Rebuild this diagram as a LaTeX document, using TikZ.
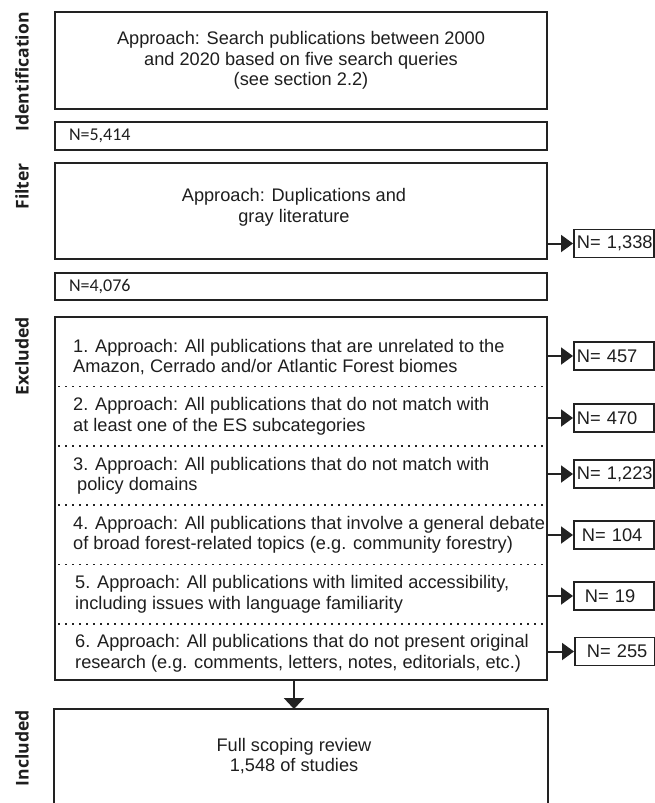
\documentclass[tikz,border=0pt]{standalone}
\usepackage{fontspec}
\setmainfont{Liberation Sans}
\newfontfamily\stagefont{Open Sans}
\newfontfamily\countfont{Carlito}
\usetikzlibrary{arrows.meta}
\definecolor{boxline}{HTML}{222222}
\definecolor{boxtext}{HTML}{1E1E1E}
\tikzset{
  mainbox/.style={draw=boxline, line width=1.9pt, minimum width=492pt,
                  inner sep=0pt, text=boxtext, align=center,
                  font=\fontsize{18.2}{20.5}\selectfont},
  countbox/.style={mainbox, inner xsep=14pt, text width=464pt, align=left,
                   minimum height=28pt, font=\countfont\fontsize{18}{20}\selectfont},
  stage/.style={rotate=90, anchor=east, inner sep=0pt, text=boxtext,
                font=\stagefont\bfseries\fontsize{17.6}{19}\selectfont},
  item/.style={anchor=west, align=left, inner sep=0pt, text=boxtext,
               font=\fontsize{18.2}{20.5}\selectfont},
  nbox/.style={draw=boxline, line width=1.7pt, anchor=west, minimum height=28pt,
               inner xsep=3pt, inner ysep=0pt, text width=74pt, align=left,
               text=boxtext, font=\fontsize{18.3}{20}\selectfont},
  outarrow/.style={draw=boxline, line width=2pt, -{Triangle[length=12pt, width=17pt]}},
  downarrow/.style={draw=boxline, line width=2pt, -{Triangle[length=11pt, width=20pt]}},
  sepline/.style={boxline, line width=1.7pt, dash pattern=on 1.6pt off 5.4pt},
}

\begin{document}
\begin{tikzpicture}[x=1pt, y=-1pt]
    \useasboundingbox (0,0) rectangle (654,803);
    % stages
    \node[stage] (lblident) at (22,12) {Identification};
    \node[stage] (lblfilt) at (22,163) {Filter};
    \node[stage] (lblexcl) at (22,317) {Excluded};
    \node[stage] (lblincl) at (22,710) {Included};

    \node[mainbox, minimum height=97pt] (ident) at (301,60.5)
      {Approach: Search publications between 2000\\and 2020 based on five search queries\\(see section 2.2)};
    \node[countbox] (n0) at (301,136) {N=5,414};

    \node[mainbox, minimum height=96pt] (filt) at (301,211) {};
    \node[item, anchor=center, align=center] (filttxt) at (294,207.5) {Approach: Duplications and\\gray literature};
    \node[nbox] (nx0) at (573,243.5) {N=~1,338};
    \draw[outarrow] (filt.east |- nx0.west) -- (nx0.west);

    \node[countbox, minimum height=27pt] (n1) at (301,286.5) {N=4,076};

    % excluded block
    \node[mainbox, minimum height=363pt] (excl) at (301,498.5) {};
    \node[item] (ex1) at (73,357) {1. Approach: All publications that are unrelated to the\\Amazon, Cerrado and/or Atlantic Forest biomes};
    \node[item] (ex2) at (73,416.3) {2. Approach: All publications that do not match with\\at least one of the ES subcategories};
    \node[item] (ex3) at (73,475.6) {3. Approach: All publications that do not match with\\\hspace*{4pt}policy domains};
    \node[item] (ex4) at (73,534.9) {4. Approach: All publications that involve a general debate\\of broad forest-related topics (e.g. community forestry)};
    \node[item] (ex5) at (75,594.2) {5. Approach: All publications with limited accessibility,\\including issues with language familiarity};
    \node[item] (ex6) at (75,653.5) {6. Approach: All publications that do not present original\\research (e.g. comments, letters, notes, editorials, etc.)};
    \draw[sepline] (58,386.6) -- (545,386.6);
    \draw[sepline] (58,446) -- (545,446);
    \draw[sepline] (58,505) -- (545,505);
    \draw[sepline] (58,564.5) -- (545,564.5);
    \draw[sepline] (58,624) -- (545,624);

    \node[nbox] (nx1) at (573,356) {N=~457};
    \node[nbox] (nx2) at (573,418) {N=~470};
    \node[nbox] (nx3) at (573,474) {N=~1,223};
    \node[nbox] (nx4) at (573,535) {\hspace*{5pt}N=~104};
    \node[nbox] (nx5) at (573,596) {\hspace*{8pt}N=~19};
    \node[nbox] (nx6) at (574,651.5) {\hspace*{9pt}N=~255};
    \draw[outarrow] (excl.east |- nx1.west) -- (nx1.west);
    \draw[outarrow] (excl.east |- nx2.west) -- (nx2.west);
    \draw[outarrow] (excl.east |- nx3.west) -- (nx3.west);
    \draw[outarrow] (excl.east |- nx4.west) -- (nx4.west);
    \draw[outarrow] (excl.east |- nx5.west) -- (nx5.west);
    \draw[outarrow] (excl.east |- nx6.west) -- (nx6.west);

    % included block, open at the bottom
    \node[mainbox, draw=none, minimum height=96pt] (incl) at (301,758) {};
    \draw[boxline, line width=1.9pt] (incl.south west) |- (incl.north east) -- (incl.south east);
    \node[item, anchor=center, align=center] (incltxt) at (294,756) {Full scoping review\\1,548 of studies};
    \draw[downarrow] (incltxt |- excl.south) -- (incltxt |- incl.north);
  \end{tikzpicture}
\end{document}
